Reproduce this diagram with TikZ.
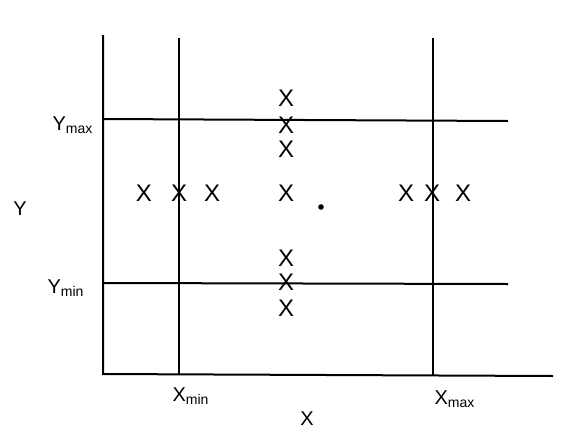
\documentclass[tikz,border=0pt]{standalone}
\usepackage{fontspec}
\setmainfont{Liberation Sans}
\usepackage{tikz}
\usetikzlibrary{positioning}

\begin{document}
\begin{tikzpicture}[x=0.5pt, y=-0.5pt, font=\normalsize,
  rule/.style={line width=1pt},
  lab/.style={inner sep=0pt},
  cross/.style={inner sep=0pt, font=\large}]
\useasboundingbox (0,0) rectangle (566,428);
% axes
\coordinate (ytop) at (103,35);
\coordinate (orig) at (103,374);
\coordinate (xend) at (553,376);
\draw[rule] (ytop) -- (orig) -- (xend);
% limits
\coordinate (xmintop) at (179,38);
\coordinate (xminbot) at (179,374);
\coordinate (xmaxtop) at (433,38);
\coordinate (xmaxbot) at (433,375);
\coordinate (ymaxl) at (103,119);
\coordinate (ymaxr) at (508,121);
\coordinate (yminl) at (103,283);
\coordinate (yminr) at (508,284);
\draw[rule] (xmintop) -- (xminbot);
\draw[rule] (xmaxtop) -- (xmaxbot);
\draw[rule] (ymaxl) -- (ymaxr);
\draw[rule] (yminl) -- (yminr);
% labels
\node[lab] (ylab) at (20,209) {Y};
\node[lab] (xlab) at (307,419) {X};
\node[lab] (ymaxlab) at (73,125) {Y\textsubscript{max}};
\node[lab] (yminlab) at (66,288) {Y\textsubscript{min}};
\node[lab] (xminlab) at (191,396) {X\textsubscript{min}};
\node[lab] (xmaxlab) at (455,399) {X\textsubscript{max}};
% points
\foreach \px [count=\i] in {144,179,212,286,406,432,463}
  \node[cross] (h\i) at (\px,193) {X};
\foreach \py [count=\i] in {98,125,149,258,282,308}
  \node[cross] (v\i) at (286,\py) {X};
\fill (321,207) circle (2.8);
\end{tikzpicture}
\end{document}
